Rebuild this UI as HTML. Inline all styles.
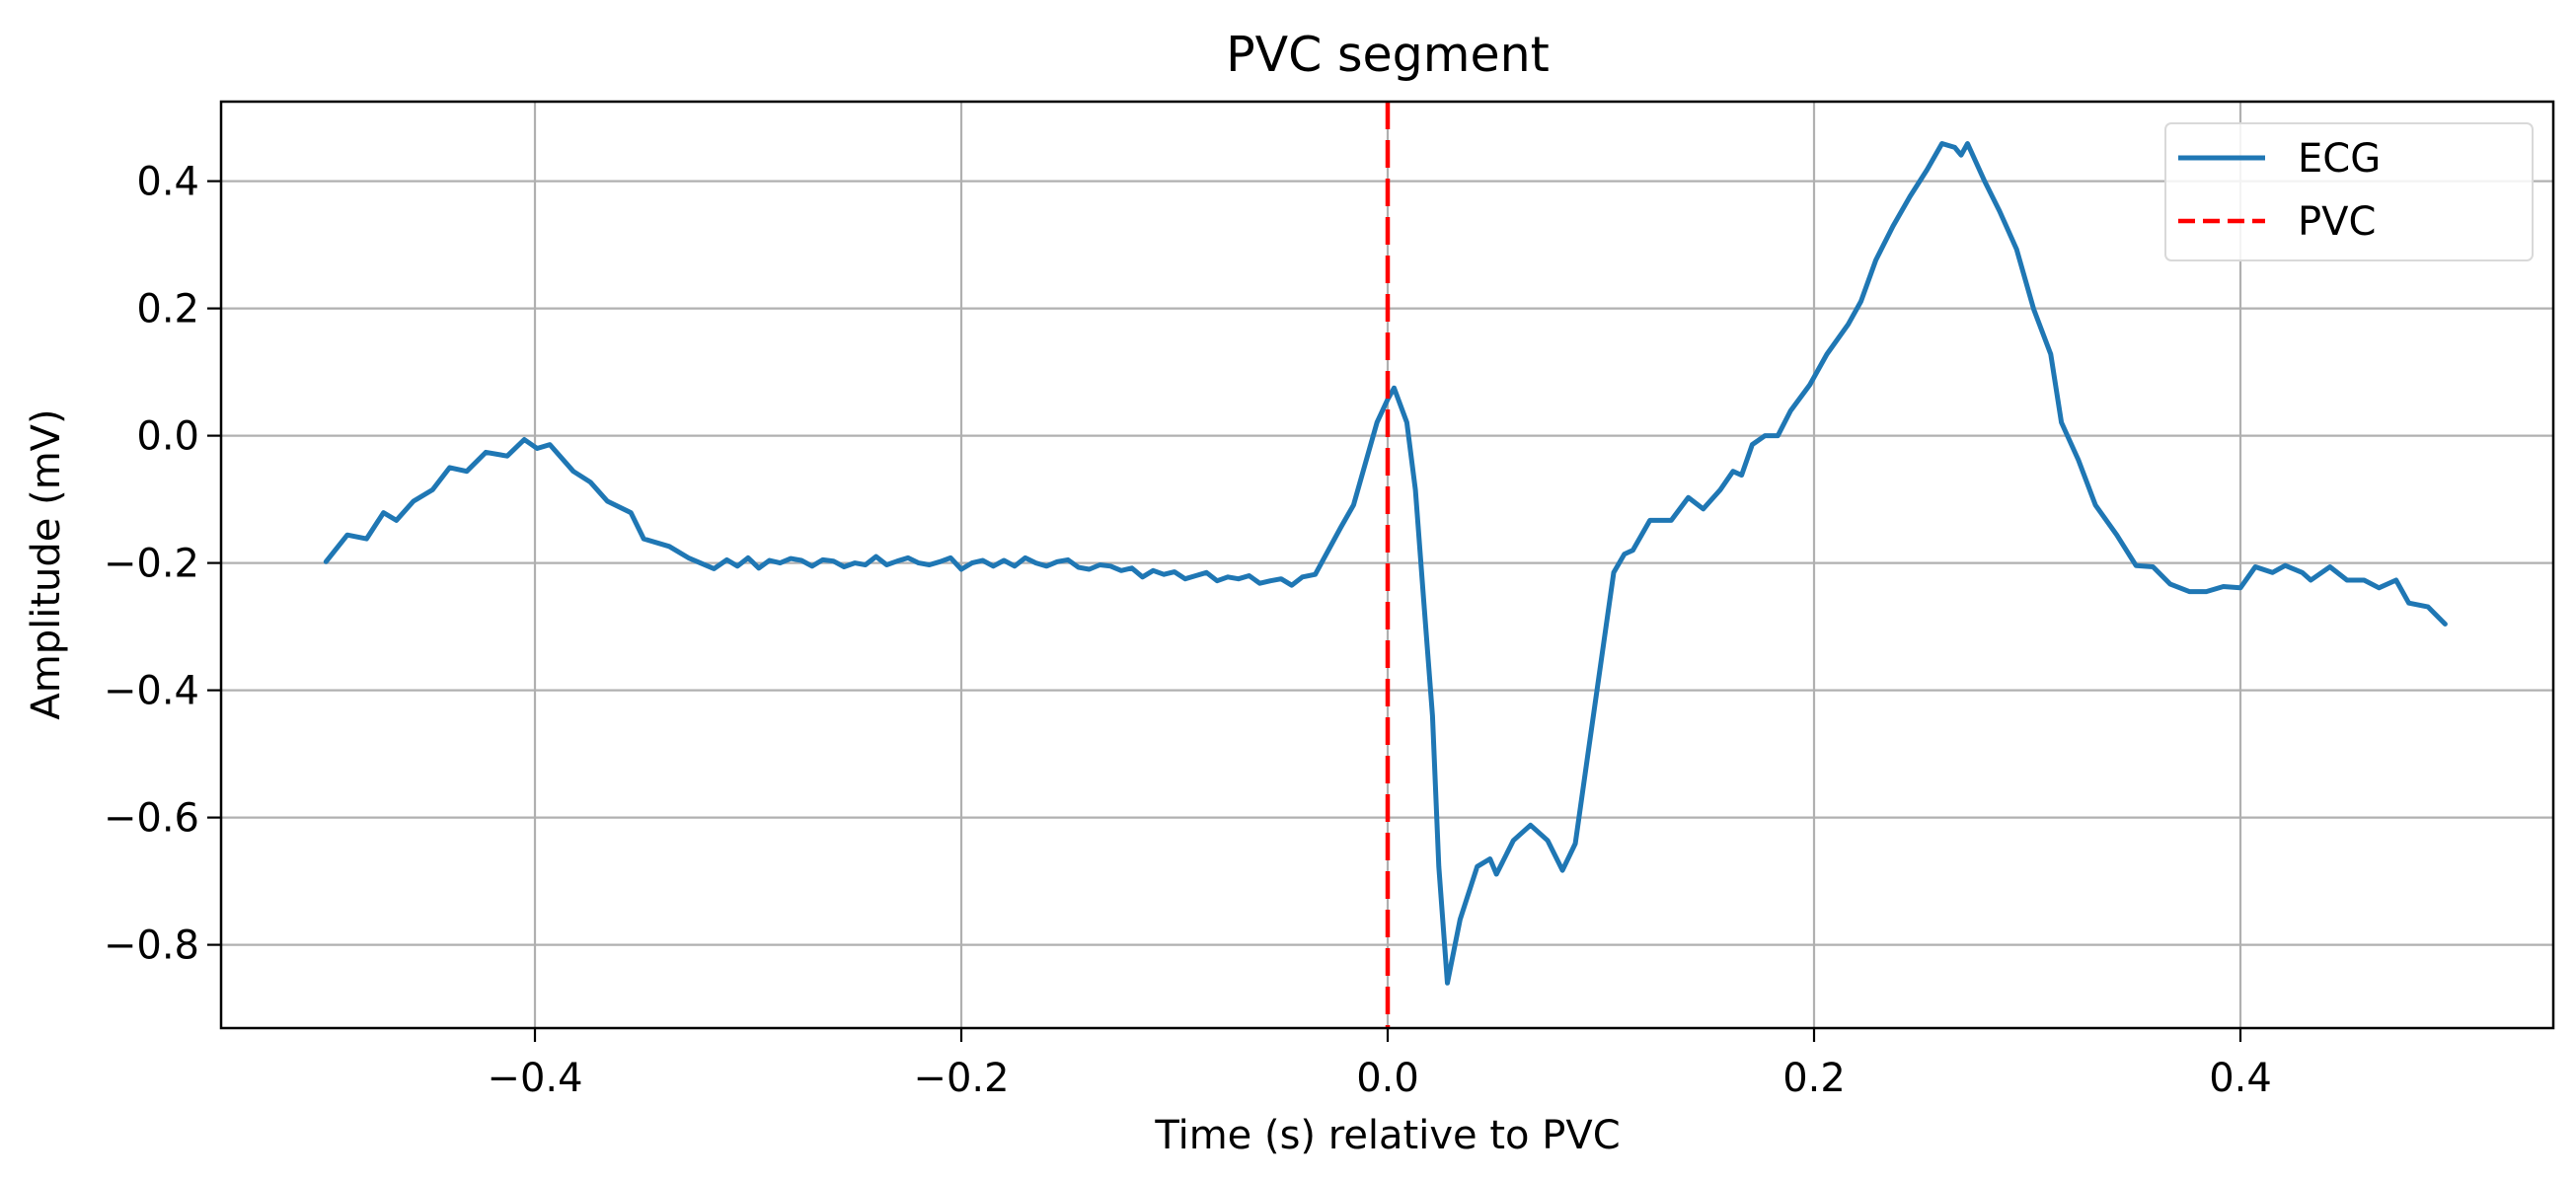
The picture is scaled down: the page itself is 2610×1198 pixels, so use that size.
<!DOCTYPE html>
<html><head><meta charset="utf-8"><style>
html,body{margin:0;padding:0;background:#fff;}
svg{display:block;font-family:"DejaVu Sans","Liberation Sans",sans-serif;}
</style></head><body>
<svg id="chart" width="2610" height="1198" viewBox="0 0 2610 1198" xmlns="http://www.w3.org/2000/svg">
<rect x="0" y="0" width="2610" height="1198" fill="#fff"/>
<text x="1406" y="72" font-size="49" text-anchor="middle" fill="#000">PVC segment</text>
<g id="grid"></g>
<g id="series"></g>
<rect x="224" y="103" width="2363" height="939" fill="none" stroke="#000" stroke-width="2.5"/>
<g id="ticks"></g>
<text x="1406" y="1164" font-size="40" text-anchor="middle" fill="#000">Time (s) relative to PVC</text>
<text transform="translate(60,572) rotate(-90)" font-size="40" text-anchor="middle" fill="#000">Amplitude (mV)</text>
<g>
<rect x="2194" y="125" width="372" height="139" rx="6" fill="#fff" fill-opacity="0.85" stroke="#d9d9d9" stroke-width="2"/>
<line x1="2207" y1="160" x2="2295" y2="160" stroke="#1f77b4" stroke-width="5"/>
<text x="2328" y="174" font-size="40" fill="#000">ECG</text>
<line x1="2207" y1="224" x2="2295" y2="224" stroke="#ff0000" stroke-width="4.5" stroke-dasharray="17,8"/>
<text x="2328" y="238" font-size="40" fill="#000">PVC</text>
</g>
</svg>
<script>
const times = [-0.498,-0.488,-0.479,-0.471,-0.465,-0.457,-0.448,-0.440,-0.432,-0.423,-0.413,-0.405,-0.399,-0.393,-0.382,-0.374,-0.366,-0.355,-0.349,-0.337,-0.328,-0.316,
-0.310,-0.305,-0.300,-0.295,-0.290,-0.285,-0.280,-0.275,-0.270,-0.265,-0.260,-0.255,-0.250,-0.245,-0.240,-0.235,-0.230,-0.225,-0.220,-0.215,-0.210,-0.205,-0.200,-0.195,-0.190,-0.185,-0.180,-0.175,-0.170,-0.165,-0.160,-0.155,-0.150,-0.145,-0.140,-0.135,-0.130,-0.125,-0.120,-0.115,-0.110,-0.105,-0.100,-0.095,-0.090,-0.085,-0.080,-0.075,-0.070,-0.065,-0.060,-0.055,-0.050,-0.045,-0.040,-0.034,
-0.022,-0.016,-0.010,-0.005,0.000,0.003,0.009,0.013,0.017,0.021,0.024,0.028,0.034,0.042,0.048,0.051,0.059,0.067,0.075,0.082,0.088,0.094,0.100,0.106,0.111,0.115,0.123,0.133,0.141,0.148,0.156,0.162,0.166,0.171,0.177,0.183,0.189,0.198,0.206,0.216,0.222,0.229,0.237,0.245,0.253,0.260,0.266,0.269,0.272,0.280,0.287,0.295,0.303,0.311,0.316,0.324,0.332,0.342,0.351,0.359,0.367,0.376,0.384,0.392,0.400,0.407,0.415,0.421,0.429,0.433,0.442,0.450,0.458,0.465,0.473,0.479,0.488,0.496];
const amplitudes = [-0.198,-0.156,-0.162,-0.121,-0.133,-0.103,-0.085,-0.050,-0.056,-0.026,-0.032,-0.006,-0.020,-0.014,-0.056,-0.073,-0.103,-0.121,-0.162,-0.174,-0.192,-0.209,
-0.195,-0.205,-0.192,-0.208,-0.196,-0.200,-0.193,-0.196,-0.205,-0.195,-0.197,-0.206,-0.200,-0.203,-0.190,-0.203,-0.197,-0.192,-0.200,-0.203,-0.198,-0.192,-0.210,-0.200,-0.196,-0.205,-0.196,-0.205,-0.192,-0.200,-0.205,-0.198,-0.195,-0.207,-0.210,-0.203,-0.205,-0.212,-0.208,-0.222,-0.212,-0.218,-0.214,-0.225,-0.220,-0.215,-0.228,-0.222,-0.225,-0.220,-0.232,-0.228,-0.225,-0.235,-0.222,-0.218,
-0.144,-0.109,-0.038,0.021,0.057,0.075,0.021,-0.085,-0.263,-0.440,-0.677,-0.860,-0.760,-0.677,-0.665,-0.689,-0.636,-0.612,-0.636,-0.683,-0.641,-0.499,-0.357,-0.215,-0.186,-0.180,-0.133,-0.133,-0.097,-0.115,-0.085,-0.056,-0.062,-0.014,0.000,0.000,0.039,0.080,0.128,0.175,0.211,0.276,0.329,0.376,0.418,0.459,0.453,0.441,0.459,0.400,0.353,0.293,0.199,0.128,0.021,-0.038,-0.109,-0.156,-0.204,-0.206,-0.233,-0.245,-0.245,-0.237,-0.239,-0.206,-0.215,-0.204,-0.215,-0.227,-0.206,-0.227,-0.227,-0.239,-0.227,-0.263,-0.269,-0.296];
const xTicks = [-0.4,-0.2,0.0,0.2,0.4];
const xTickLabels = ["\u22120.4","\u22120.2","0.0","0.2","0.4"];
const yTicks = [0.4,0.2,0.0,-0.2,-0.4,-0.6,-0.8];
const yTickLabels = ["0.4","0.2","0.0","\u22120.2","\u22120.4","\u22120.6","\u22120.8"];
const pvcTime = 0.0;

const NS = "http://www.w3.org/2000/svg";
const X0 = 1406, KX = 2160, Y0 = 441.6, KY = 645;
const TOP = 103, BOTTOM = 1042, LEFT = 224, RIGHT = 2587;
function xs(t){ return X0 + t*KX; }
function ys(v){ return Y0 - v*KY; }
function mk(tag, attrs){ const e = document.createElementNS(NS, tag); for (const k in attrs) e.setAttribute(k, attrs[k]); return e; }
const grid = document.getElementById('grid');
const ticks = document.getElementById('ticks');
const series = document.getElementById('series');

xTicks.forEach((t,i)=>{
  const g = mk('line',{x1:xs(t),x2:xs(t),y1:TOP,y2:BOTTOM,stroke:'#b0b0b0','stroke-width':2.2});
  
  
  grid.appendChild(g);
  const tk = mk('line',{x1:xs(t),x2:xs(t),y1:BOTTOM,y2:BOTTOM+14,stroke:'#000','stroke-width':2.2});
  
  
  ticks.appendChild(tk);
  const lb = mk('text',{x:xs(t),y:1106,'font-size':40,'text-anchor':'middle',fill:'#000'});
  lb.textContent = xTickLabels[i];
  
  
  ticks.appendChild(lb);
});
yTicks.forEach((v,i)=>{
  const g = mk('line',{x1:LEFT,x2:RIGHT,y1:ys(v),y2:ys(v),stroke:'#b0b0b0','stroke-width':2.2});
  
  
  grid.appendChild(g);
  const tk = mk('line',{x1:LEFT-14,x2:LEFT,y1:ys(v),y2:ys(v),stroke:'#000','stroke-width':2.2});
  
  
  ticks.appendChild(tk);
  const lb = mk('text',{x:LEFT-22,y:ys(v)+14,'font-size':40,'text-anchor':'end',fill:'#000'});
  lb.textContent = yTickLabels[i];
  
  
  ticks.appendChild(lb);
});
let d = '';
times.forEach((t,i)=>{ d += (i?'L':'M') + xs(t).toFixed(1) + ',' + ys(amplitudes[i]).toFixed(1); });
const path = mk('path',{d:d,fill:'none',stroke:'#1f77b4','stroke-width':5,'stroke-linejoin':'round','stroke-linecap':'round'});


series.appendChild(path);
const pvc = mk('line',{x1:xs(pvcTime),x2:xs(pvcTime),y1:TOP,y2:BOTTOM,stroke:'#ff0000','stroke-width':4.5,'stroke-dasharray':'28,11'});


series.appendChild(pvc);
</script>
</body></html>
